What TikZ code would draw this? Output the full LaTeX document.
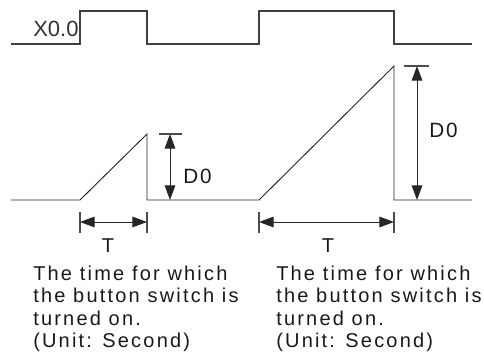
\documentclass[tikz,border=0pt]{standalone}
\usepackage{fontspec}
\setmainfont{Liberation Sans}
\newfontfamily\bodyfont[LetterSpace=11]{Liberation Sans}
\newfontfamily\dimfont[LetterSpace=10]{Liberation Sans}
\usetikzlibrary{arrows.meta}
\begin{document}
\begin{tikzpicture}[x=0.75pt,y=-0.75pt,
  sig/.style={line width=0.9pt,draw=black!75},
  ramp/.style={line width=0.7pt,draw=black!85},
  tick/.style={line width=0.8pt,draw=black!70},
  dim/.style={line width=0.7pt,draw=black!85,{Triangle[length=11pt,width=8pt]}-{Triangle[length=11pt,width=8pt]}},
  txt/.style={inner sep=0pt,anchor=base west,font=\bodyfont\fontsize{15}{17}\selectfont,text=black!90},
  lbl/.style={inner sep=0pt,anchor=base west,font=\dimfont\fontsize{15.5}{18}\selectfont,text=black!90}]
\useasboundingbox (0,0) rectangle (484,363);
% input signal
\draw[sig] (11,44) -- (80,44) -- (80,11) -- (147,11) -- (147,44) -- (259,44) -- (259,11) -- (394,11) -- (394,44) -- (472,44);
\node[inner sep=0pt,anchor=base west,font=\fontsize{16.5}{19}\selectfont,text=black!80] (x00) at (33,37) {X0.0};
% output ramp
\draw[ramp] (11,200) -- (80,200) -- (147,134) -- (147,200) -- (259,200) -- (394,66) -- (394,200) -- (472,200);
% small D0 dimension
\coordinate (d1t) at (170,134);
\coordinate (d1b) at (170,200);
\draw[tick] (159,134) -- (182,134);
\draw[dim] (d1t) -- (d1b);
\node[lbl] (d0a) at (183,183) {D0};
% large D0 dimension
\coordinate (d2t) at (417,66);
\coordinate (d2b) at (417,200);
\draw[tick] (404,66) -- (429,66);
\draw[dim] (d2t) -- (d2b);
\node[lbl] (d0b) at (429,138) {D0};
% T dimensions
\draw[tick] (80,212) -- (80,233);
\draw[tick] (147,212) -- (147,233);
\coordinate (t1l) at (80,222);
\coordinate (t1r) at (147,222);
\draw[dim] (t1l) -- (t1r);
\node[lbl,font=\fontsize{15}{16}\selectfont,anchor=base] (ta) at (108,252) {T};
\draw[tick] (259,212) -- (259,233);
\draw[tick] (394,212) -- (394,233);
\coordinate (t2l) at (259,222);
\coordinate (t2r) at (394,222);
\draw[dim] (t2l) -- (t2r);
\node[lbl,font=\fontsize{15}{16}\selectfont,anchor=base] (tb) at (328,252) {T};
% texts
\node[txt] (a1) at (33,280) {The time for which};
\node[txt] (a2) at (33,302.5) {the button switch is};
\node[txt] (a3) at (33,325) {turned on.};
\node[txt] (a4) at (33,347.5) {(Unit: Second)};
\node[txt] (b1) at (276,280) {The time for which};
\node[txt] (b2) at (276,302.5) {the button switch is};
\node[txt] (b3) at (276,325) {turned on.};
\node[txt] (b4) at (276,347.5) {(Unit: Second)};
\end{tikzpicture}
\end{document}
